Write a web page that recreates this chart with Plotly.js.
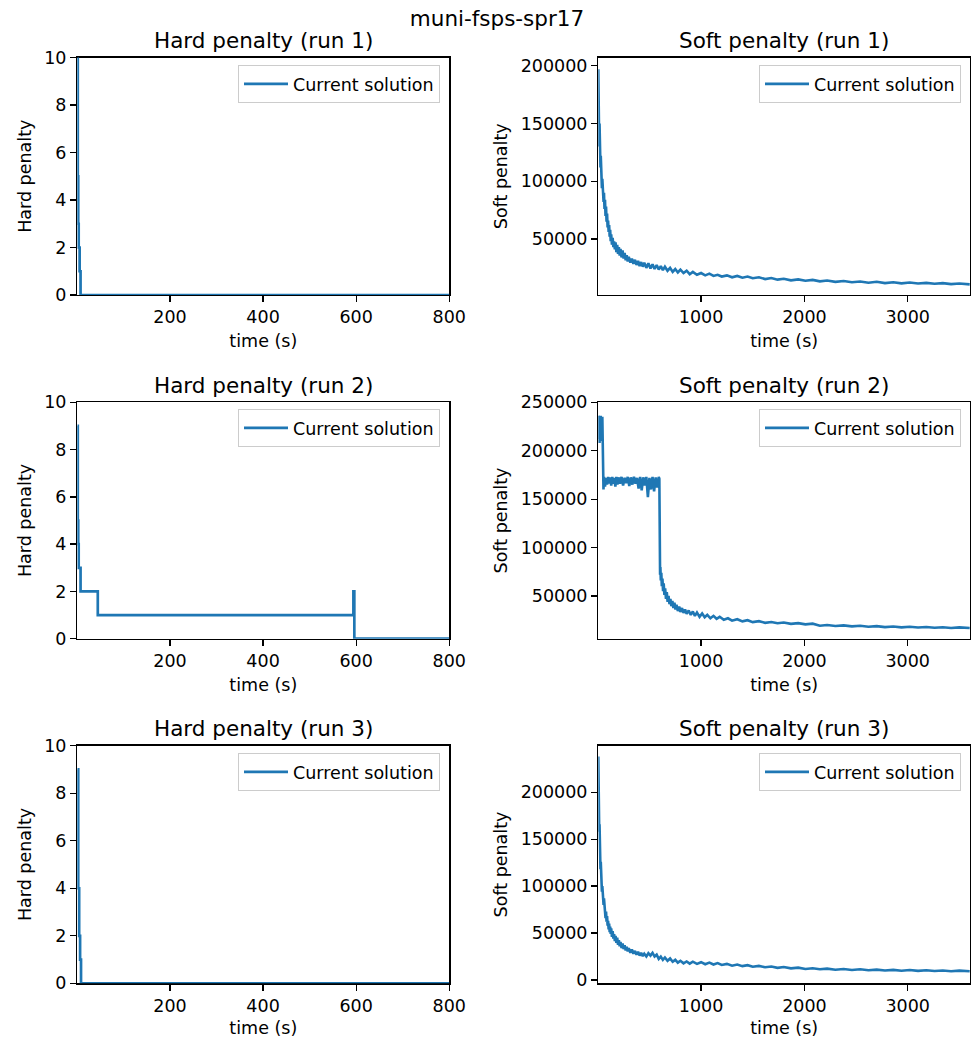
<!DOCTYPE html>
<html>
<head>
<meta charset="utf-8">
<script src="https://cdn.plot.ly/plotly-3.0.1.min.js"></script>
<style>html,body{margin:0;padding:0;background:#fff;}#chart{width:972px;height:1038px;}</style>
</head>
<body>
<div id="chart"></div>
<script>
// ---------- data ----------
const figTitle = "muni-fsps-spr17";
const seriesName = "Current solution";
const hardTitles = ["Hard penalty (run 1)", "Hard penalty (run 2)", "Hard penalty (run 3)"];
const softTitles = ["Soft penalty (run 1)", "Soft penalty (run 2)", "Soft penalty (run 3)"];

// hard penalty (step series)
const hard1Time = [1, 2, 3, 4, 6, 8, 800];
const hard1Val  = [10, 5, 3, 2, 1, 0, 0];
const hard2Time = [1, 2, 3, 4, 8, 45, 594, 596, 800];
const hard2Val  = [9, 5, 4, 3, 2, 1, 2, 0, 0];
const hard3Time = [1, 3, 5, 7, 9, 800];
const hard3Val  = [9, 4, 2, 1, 0, 0];

// soft penalty run 1
const soft1Time = [
  5,8,11,14,17,20,23,26,29,32,
  36,40,44,48,52,56,60,65,70,75,
  80,85,90,95,100,105,110,115,120,125,
  130,137,144,151,158,165,172,180,188,196,
  204,212,220,230,240,250,260,270,280,290,
  300,315,330,345,360,375,390,405,420,435,
  450,470,490,510,530,550,570,590,610,630,
  650,675,700,725,750,775,800,830,860,890,
  920,960,1000,1040,1080,1120,1160,1200,1250,1300,
  1350,1400,1450,1500,1560,1620,1680,1740,1800,1870,
  1940,2010,2080,2150,2220,2300,2380,2460,2540,2620,
  2700,2780,2860,2940,3020,3100,3180,3260,3340,3420,
  3500,3600];
const soft1Val = [
  197000,150000,168000,130000,150000,128000,138000,112000,122000,104000,
  112000,94000,102000,88000,96000,82000,90000,76000,84000,70000,
  78000,65000,72000,60000,66000,56000,62000,52000,58000,48000,
  54000,45000,51000,43000,48000,41000,47000,38500,45000,37000,
  43000,35500,41500,34000,40000,33000,38000,31500,36000,30500,
  34500,29500,33000,28500,32000,27500,31000,26500,30000,26000,
  29500,25000,29000,24500,28000,24000,27500,23500,26500,23000,
  26000,22500,25000,21500,24000,21000,23500,20500,22500,19500,
  21500,19000,20500,18500,20000,18000,19000,17500,18500,16800,
  18000,16500,17500,16000,16800,15300,16200,14800,15600,14200,
  15000,13800,14600,13300,14000,12900,13600,12500,13200,12100,
  12900,11800,12500,11600,12300,11400,12000,11200,11800,10900,
  11400,10700];

// soft penalty run 2
const soft2Time = [
  5,8,11,14,17,20,24,28,32,36,
  40,44,48,52,55,60,70,80,90,100,
  110,120,130,140,150,160,170,180,190,200,
  215,230,245,260,275,290,305,320,335,350,
  365,380,395,410,425,440,455,470,485,500,
  515,530,545,560,575,590,596,600,603,606,
  610,615,620,626,632,638,645,652,660,668,
  676,685,694,703,712,722,732,742,752,762,
  775,788,800,815,830,845,860,880,900,920,
  940,960,985,1010,1035,1060,1090,1120,1150,1180,
  1220,1260,1300,1350,1400,1450,1500,1560,1620,1680,
  1740,1800,1870,1940,2010,2080,2150,2220,2300,2380,
  2460,2540,2620,2700,2780,2860,2940,3020,3100,3180,
  3260,3340,3420,3500,3600];
const soft2Val = [
  212000,236000,215000,234000,208000,230000,220000,236000,210000,232000,
  218000,235000,207000,225000,160000,173000,163000,172000,165000,173000,
  166000,172500,164000,173000,166000,172000,163000,173000,165000,172500,
  166000,173000,164000,172000,166500,173000,163500,172500,165000,173000,
  166000,172000,161000,173000,159000,172500,164000,173000,152000,172000,
  160000,173000,158000,172500,162000,173000,171000,85000,72000,80000,
  66000,74000,60000,68000,55000,63000,51000,58000,47000,54000,
  44000,50000,41500,47000,39500,45000,37500,43000,36000,41000,
  34500,39000,33500,37500,32500,36000,31500,35000,30500,34000,
  29500,33000,28500,32000,28000,30500,27000,29500,26500,28500,
  25500,27000,24500,26000,23800,25000,23000,24000,22300,23200,
  21800,22600,21200,22000,20700,21400,19300,20100,19000,19700,
  18600,19300,18200,18900,17900,18500,17600,18200,17400,18000,
  17200,17800,17000,17600,17000];

// soft penalty run 3
const soft3Time = [
  5,8,11,14,17,20,23,26,29,32,
  36,40,44,48,52,56,60,65,70,75,
  80,85,90,95,100,105,110,115,120,125,
  130,137,144,151,158,165,172,180,188,196,
  204,212,220,230,240,250,260,270,280,290,
  300,315,330,345,360,375,390,405,420,435,
  450,470,490,510,530,550,570,590,610,630,
  650,675,700,725,750,775,800,830,860,890,
  920,960,1000,1040,1080,1120,1160,1200,1250,1300,
  1350,1400,1450,1500,1560,1620,1680,1740,1800,1870,
  1940,2010,2080,2150,2220,2300,2380,2460,2540,2620,
  2700,2780,2860,2940,3020,3100,3180,3260,3340,3420,
  3500,3600];
const soft3Val = [
  238000,185000,192000,158000,166000,140000,150000,118000,126000,104000,
  112000,94000,100000,86000,92000,80000,87000,74000,80000,66000,
  73000,62000,68000,58000,63000,54000,60000,51000,57000,49000,
  55000,46000,52000,44000,49000,41500,47000,39500,45000,37500,
  42500,36000,40500,34000,39000,33000,37000,31500,35500,30500,
  34000,29000,32500,28000,31000,27000,30000,26000,29000,25500,
  28000,25000,28500,26000,29000,25000,27000,22500,25000,21500,
  24000,20500,23000,19500,21500,18500,20500,17800,19800,17500,
  19500,17200,19000,16800,18500,16500,18000,16000,17200,15200,
  16500,14800,15800,14200,15000,13600,14400,13000,13800,12400,
  13200,11800,12600,11400,12100,11000,11700,10700,11400,10400,
  11100,10200,10800,9900,10600,9700,10400,9600,10200,9400,
  10000,9300];

// tick labels
const hardXTicks = [200, 400, 600, 800];
const hardYTicks = [0, 2, 4, 6, 8, 10];
const softXTicks = [1000, 2000, 3000];
const soft1YTicks = [50000, 100000, 150000, 200000];
const soft2YTicks = [50000, 100000, 150000, 200000, 250000];
const soft3YTicks = [0, 50000, 100000, 150000, 200000];

// ---------- layout / style ----------
const W = 972, H = 1038;
const FONT = "DejaVu Sans";
const BLUE = "#1f77b4";
const px2x = p => p / W;
const px2y = p => 1 - p / H;

const hardDom = [px2x(77.3), px2x(449.3)];
const softDom = [px2x(598.3), px2x(970)];
const rows = [[57.5, 295], [402.3, 638.7], [745.7, 983.3]];
const rowDom = rows.map(r => [px2y(r[1]), px2y(r[0])]);

function axisBase(extra) {
  return Object.assign({
    showline: true, mirror: true, linecolor: "#000", linewidth: 1.3,
    ticks: "outside", ticklen: 6, tickwidth: 1.3, tickcolor: "#000",
    showgrid: false, zeroline: false, automargin: false,
    tickfont: {family: FONT, size: 17.5, color: "#000"},
    layer: "below traces"
  }, extra);
}
const tickText = a => a.map(v => String(v));

const hardT = [hard1Time, hard2Time, hard3Time];
const hardV = [hard1Val, hard2Val, hard3Val];
const softT = [soft1Time, soft2Time, soft3Time];
const softV = [soft1Val, soft2Val, soft3Val];
const softYT = [soft1YTicks, soft2YTicks, soft3YTicks];
const softRanges = [[1500, 207100], [5900, 250000], [-3500, 249600]];

const traces = [];
const layout = {
  width: W, height: H,
  margin: {l: 0, r: 0, t: 0, b: 0},
  paper_bgcolor: "#fff", plot_bgcolor: "#fff",
  font: {family: FONT, color: "#000"},
  title: {text: figTitle, x: px2x(497), xanchor: "center", y: px2y(18), yanchor: "middle",
          font: {family: FONT, size: 21.5, color: "#000"}},
  annotations: [],
  showlegend: true
};

const legendTops = [65, 409, 753];
for (let r = 0; r < 3; r++) {
  const hi = 2 * r + 1, si = 2 * r + 2;
  const hx = hi === 1 ? "x" : "x" + hi, hy = hi === 1 ? "y" : "y" + hi;
  const sx = "x" + si, sy = "y" + si;
  const hl = hi === 1 ? "legend" : "legend" + hi, sl = "legend" + si;

  traces.push({type: "scatter", mode: "lines", x: hardT[r], y: hardV[r], xaxis: hx, yaxis: hy,
    name: seriesName, legend: hl, line: {color: BLUE, width: 2.7, shape: "hv"}});
  traces.push({type: "scatter", mode: "lines", x: softT[r], y: softV[r], xaxis: sx, yaxis: sy,
    name: seriesName, legend: sl, line: {color: BLUE, width: 2.6}});

  const hxKey = hi === 1 ? "xaxis" : "xaxis" + hi, hyKey = hi === 1 ? "yaxis" : "yaxis" + hi;
  const tfont = {family: FONT, size: 17.5, color: "#000"};
  layout[hxKey] = axisBase({domain: hardDom, anchor: hy, range: [1, 800],
    tickmode: "array", tickvals: hardXTicks, ticktext: tickText(hardXTicks),
    title: {text: "time (s)", font: tfont, standoff: 8}});
  layout[hyKey] = axisBase({domain: rowDom[r], anchor: hx, range: [0, 10],
    tickmode: "array", tickvals: hardYTicks, ticktext: tickText(hardYTicks),
    title: {text: "Hard penalty", font: tfont, standoff: 8}});
  layout["xaxis" + si] = axisBase({domain: softDom, anchor: sy, range: [5, 3603],
    tickmode: "array", tickvals: softXTicks, ticktext: tickText(softXTicks),
    title: {text: "time (s)", font: tfont, standoff: 8}});
  layout["yaxis" + si] = axisBase({domain: rowDom[r], anchor: sx, range: softRanges[r],
    tickmode: "array", tickvals: softYT[r], ticktext: tickText(softYT[r]),
    title: {text: "Soft penalty", font: tfont, standoff: 8}});

  const legStyle = {bgcolor: "rgba(255,255,255,0.8)", bordercolor: "#cccccc", borderwidth: 1,
    font: {family: FONT, size: 17.5, color: "#000"}, xanchor: "right", yanchor: "top",
    itemwidth: 44, y: px2y(legendTops[r])};
  layout[hl] = Object.assign({}, legStyle, {x: px2x(440)});
  layout[sl] = Object.assign({}, legStyle, {x: px2x(961)});

  const titleY = px2y(rows[r][0] - 17);
  layout.annotations.push({text: hardTitles[r], xref: "paper", yref: "paper",
    x: (hardDom[0] + hardDom[1]) / 2, y: titleY, xanchor: "center", yanchor: "middle",
    showarrow: false, font: {family: FONT, size: 21.5, color: "#000"}});
  layout.annotations.push({text: softTitles[r], xref: "paper", yref: "paper",
    x: (softDom[0] + softDom[1]) / 2, y: titleY, xanchor: "center", yanchor: "middle",
    showarrow: false, font: {family: FONT, size: 21.5, color: "#000"}});
}

Plotly.newPlot("chart", traces, layout, {staticPlot: true, displayModeBar: false});
</script>
</body>
</html>
